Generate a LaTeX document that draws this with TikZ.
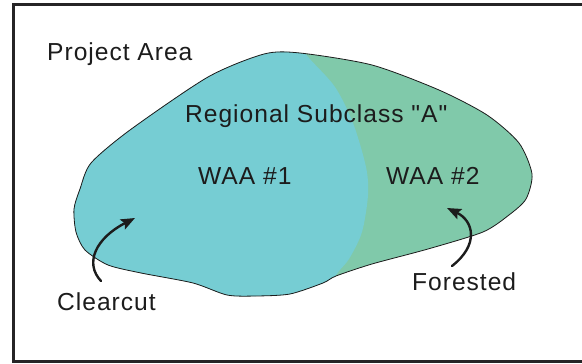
\documentclass[tikz,border=0pt]{standalone}
\usepackage{fontspec}
\usepackage{tikz}
\usetikzlibrary{arrows.meta}
\newfontfamily\areafont{Liberation Sans}[LetterSpace=4]
\definecolor{AreaInk}{HTML}{1C1C1C}
\definecolor{AreaFrame}{HTML}{262426}
\definecolor{AreaCyan}{HTML}{76CDD3}
\definecolor{AreaGreen}{HTML}{80C9AA}
\tikzset{
  arealabel/.style={anchor=base west,inner sep=0pt,text=AreaInk,
    font=\areafont\fontsize{24.6}{28}\selectfont},
  arearule/.style={line width=3pt,AreaFrame},
  areaedge/.style={line width=0.8pt,AreaInk,line join=round},
  leader/.style={-{Stealth[length=14pt,width=11pt,inset=2.5pt]},
    line width=2.4pt,AreaInk,line cap=round}
}
\newcommand{\areaoutline}{plot[smooth cycle,tension=0.45] coordinates {
  (80,189) (91,163) (130,130) (208,77) (264,54) (300,53) (372,65) (439,90)
  (487,115) (519,143) (532,174) (526,199) (509,215) (483,232) (428,249)
  (372,264) (336,276) (323,283) (290,294) (256,296) (227,295) (193,283)
  (141,273) (108,265) (85,250) (76,232) (74,209)}}

\begin{document}
\begin{tikzpicture}[x=1pt,y=-1pt]
  \path[use as bounding box] (0,0) rectangle (582,364);

  \fill[AreaGreen] \areaoutline;
  \begin{scope}
    \clip \areaoutline;
    \fill[AreaCyan] plot[smooth,tension=0.5] coordinates {(293,38) (309,58)
      (335,87) (353,123) (366,167) (368,195) (362,232) (349,259) (336,275)
      (324,300)} -- (324,330) -- (40,330) -- (40,38) -- cycle;
  \end{scope}
  \draw[areaedge] \areaoutline;

  \draw[arearule] (590,4) -- (13,4) -- (13,361) -- (590,361);

  \node[arealabel] (project) at (47,60) {Project Area};
  \node[arealabel] (subclass) at (185,122) {Regional Subclass "A"};
  \node[arealabel] (waaone) at (198,184) {WAA \#1};
  \node[arealabel] (waatwo) at (386,184) {WAA \#2};
  \node[arealabel] (forested) at (412,290) {Forested};
  \node[arealabel] (clearcut) at (57,310) {Clearcut};

  \coordinate (cuttail) at (101,281);
  \coordinate (cuttip) at (135,218);
  \coordinate (foresttail) at (452,266);
  \coordinate (foresttip) at (447,208);
  \draw[leader] (cuttail) .. controls (84,263) and (96,238) .. (cuttip);
  \draw[leader] (foresttail) .. controls (479,245) and (474,221) .. (foresttip);
\end{tikzpicture}
\end{document}
